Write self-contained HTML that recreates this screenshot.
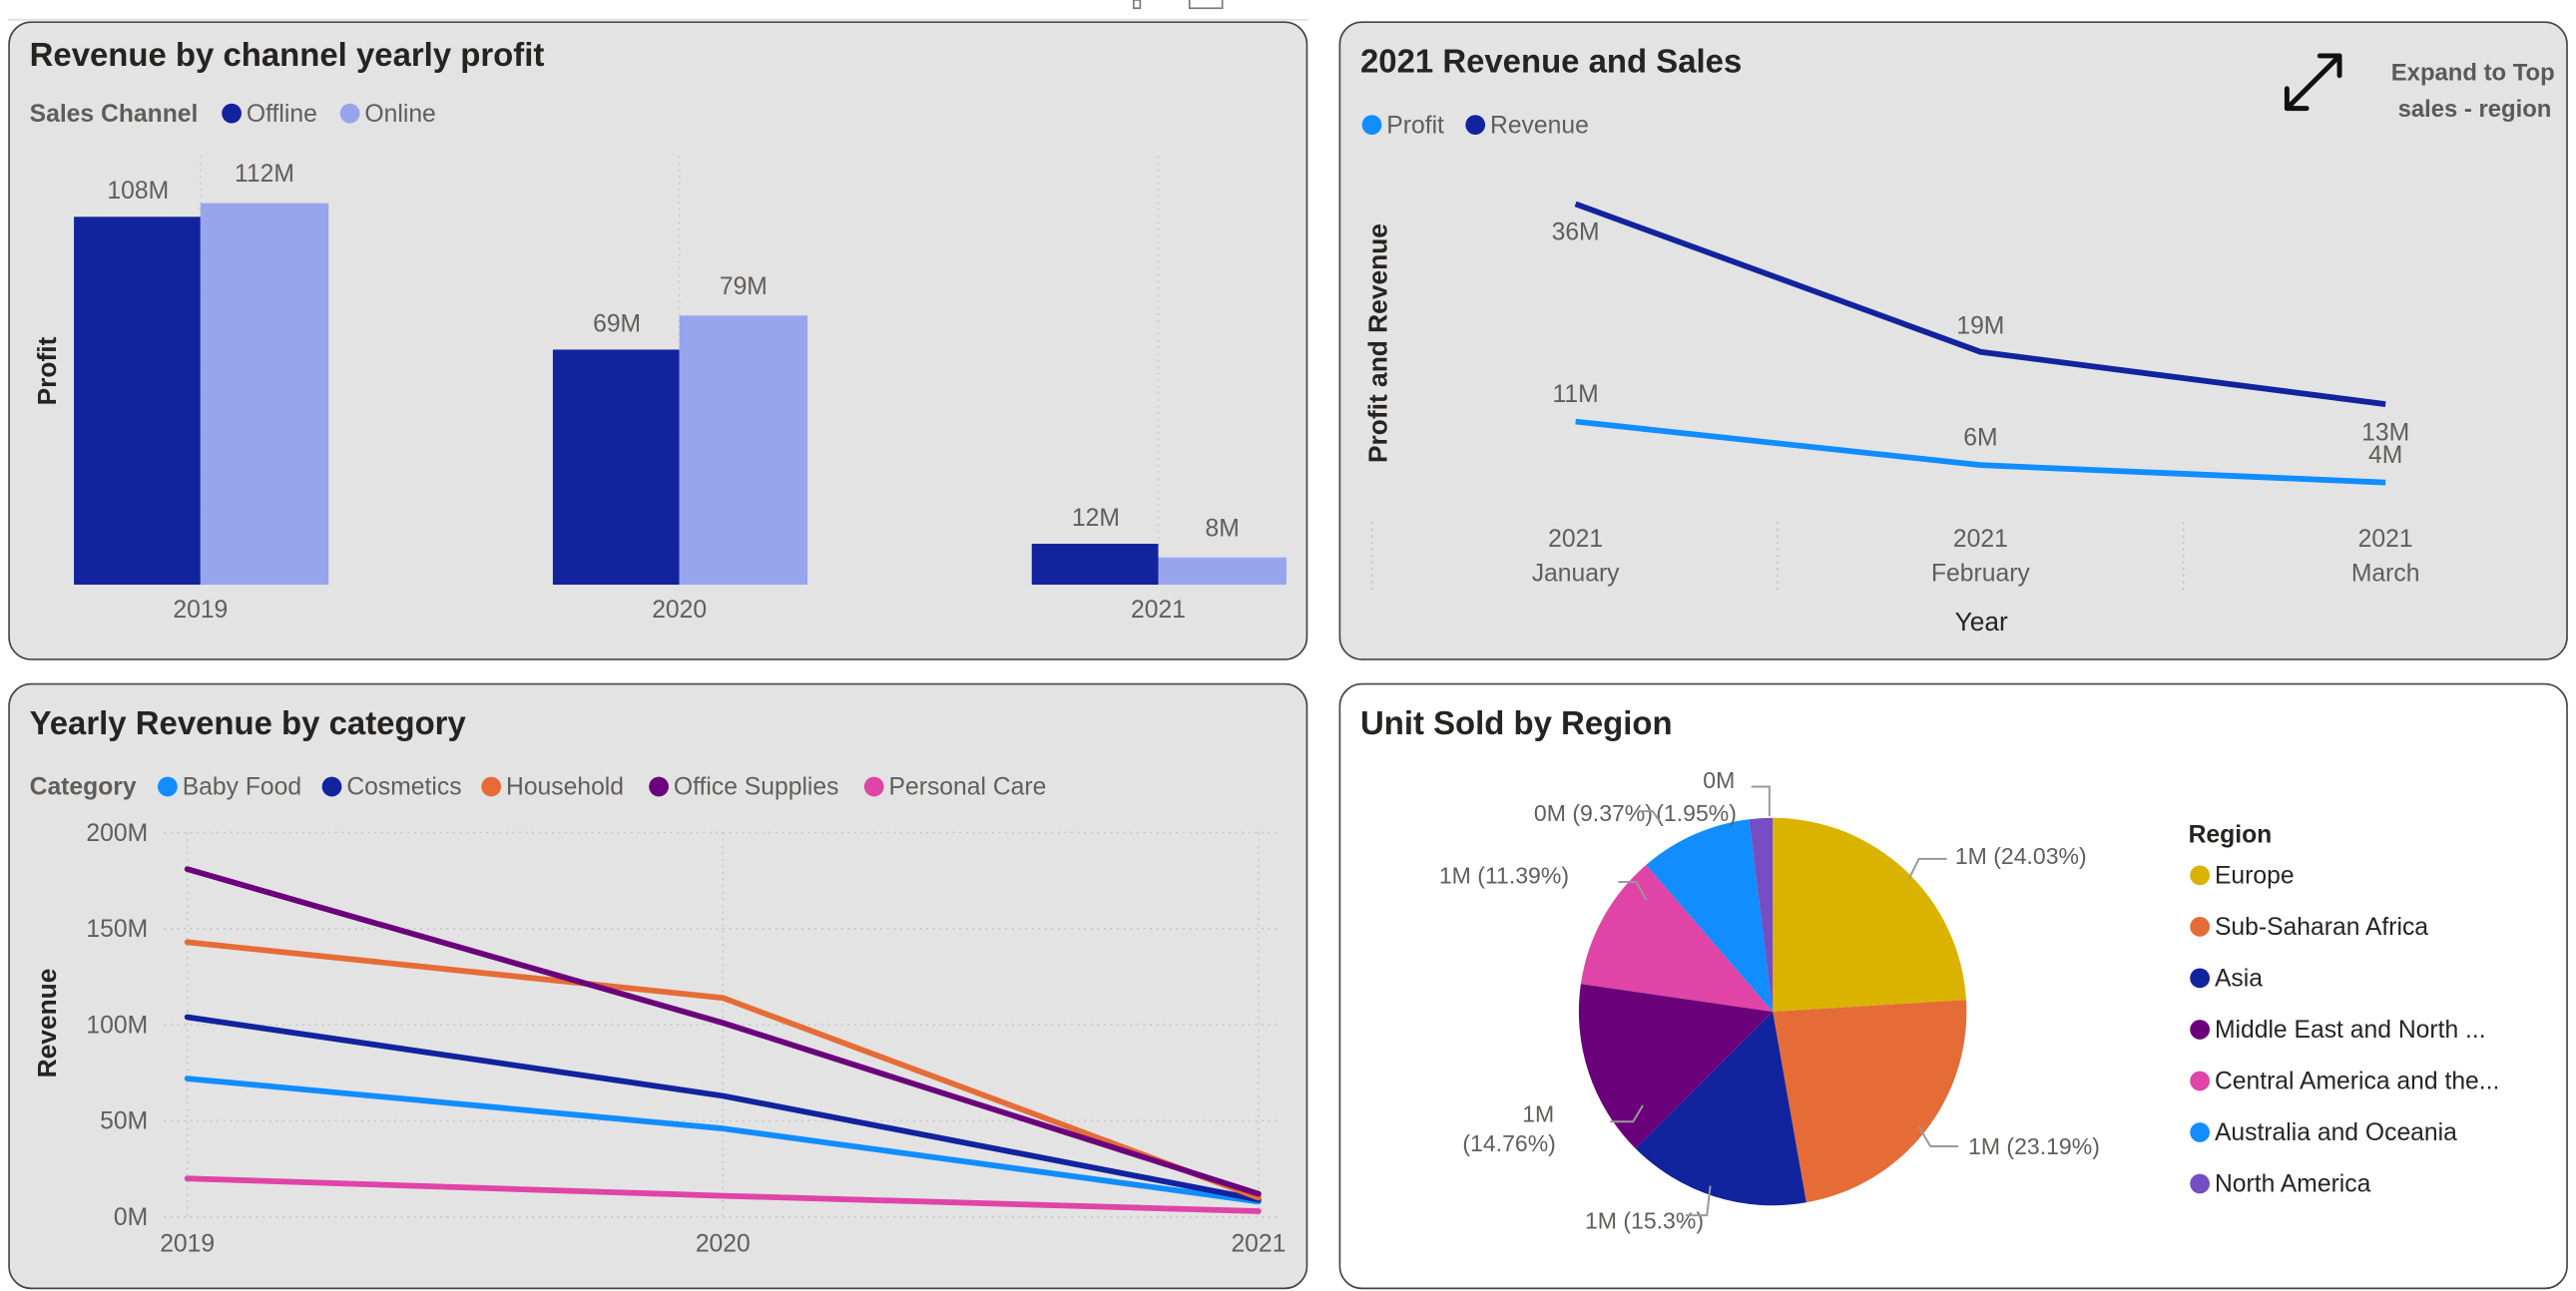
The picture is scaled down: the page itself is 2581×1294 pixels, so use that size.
<!DOCTYPE html>
<html><head><meta charset="utf-8">
<style>
html,body{margin:0;padding:0;width:2581px;height:1293px;overflow:hidden;background:#fff;}
#root{position:absolute;left:0;top:0;width:1568px;height:786px;transform:scale(1.6461);transform-origin:0 0;font-family:"Liberation Sans",sans-serif;}
.panel{position:absolute;border:1px solid #444;border-radius:14px;box-sizing:border-box;}
svg text{font-family:"Liberation Sans",sans-serif;}
</style></head><body>
<div id="root">
<svg width="1568" height="14" style="position:absolute;left:0;top:0">
<rect x="690" y="0" width="4" height="5" fill="none" stroke="#777" stroke-width="1"/>
<rect x="724" y="-2" width="20" height="7" fill="none" stroke="#777" stroke-width="1"/>
<line x1="5" y1="12" x2="796" y2="12" stroke="#ddd"/>
</svg>

<div class="panel" style="left:5px;top:13px;width:791px;height:389px;background:#e3e3e3"></div>
<div class="panel" style="left:815px;top:13px;width:748px;height:389px;background:#e3e3e3"></div>
<div class="panel" style="left:5px;top:416px;width:791px;height:369px;background:#e3e3e3"></div>
<div class="panel" style="left:815px;top:416px;width:748px;height:369px;background:#fff"></div>

<svg id="c1" width="1568" height="786" style="position:absolute;left:0;top:0">
<text x="18" y="40" font-size="20" font-weight="bold" fill="#252423">Revenue by channel yearly profit</text>
<g>
<text x="18" y="74" font-size="15" font-weight="bold" fill="#605e5c">Sales Channel</text>
<circle cx="141" cy="69" r="6" fill="#12239e"/><text x="150" y="74" font-size="15" fill="#605e5c">Offline</text>
<circle cx="213" cy="69" r="6" fill="#97a5ec"/><text x="222" y="74" font-size="15" fill="#605e5c">Online</text>
</g>
<text transform="translate(34,226) rotate(-90)" text-anchor="middle" font-size="16" font-weight="bold" fill="#252423">Profit</text>
</svg>

<svg id="c2" width="1568" height="786" style="position:absolute;left:0;top:0">
<text x="828" y="44" font-size="20" font-weight="bold" fill="#252423">2021 Revenue and Sales</text>
<g stroke="#111" stroke-width="3" fill="none" stroke-linecap="round" stroke-linejoin="round">
<line x1="1392" y1="66" x2="1424" y2="34"/><polyline points="1412,34 1424,34 1424,46"/><polyline points="1392,54 1392,66 1404,66"/>
</g>
<text x="1555" y="49" text-anchor="end" font-size="14.5" font-weight="bold" fill="#5a5a5a">Expand to Top</text>
<text x="1553" y="71" text-anchor="end" font-size="14.5" font-weight="bold" fill="#5a5a5a">sales - region</text>
<g>
<circle cx="835" cy="76" r="6" fill="#118dff"/><text x="844" y="81" font-size="15" fill="#605e5c">Profit</text>
<circle cx="898" cy="76" r="6" fill="#12239e"/><text x="907" y="81" font-size="15" fill="#605e5c">Revenue</text>
</g>
<text transform="translate(844,209) rotate(-90)" text-anchor="middle" font-size="16" font-weight="bold" fill="#252423">Profit and Revenue</text>
<text x="1206" y="384" text-anchor="middle" font-size="16" fill="#252423">Year</text>
</svg>

<svg id="c3" width="1568" height="786" style="position:absolute;left:0;top:0">
<text x="18" y="447" font-size="20" font-weight="bold" fill="#252423">Yearly Revenue by category</text>
<text transform="translate(34,623) rotate(-90)" text-anchor="middle" font-size="16" font-weight="bold" fill="#252423">Revenue</text>
</svg>

<svg id="c4" width="1568" height="786" style="position:absolute;left:0;top:0">
<text x="828" y="447" font-size="20" font-weight="bold" fill="#252423">Unit Sold by Region</text>
<text x="1332" y="513" font-size="15" font-weight="bold" fill="#252423">Region</text>
</svg>

<script>
const NS='http://www.w3.org/2000/svg';
function mk(p,tag,attrs,txt){const e=document.createElementNS(NS,tag);for(const k in attrs)e.setAttribute(k,attrs[k]);if(txt!==undefined)e.textContent=txt;p.appendChild(e);return e;}

// ---- Chart 1 data
const c1Years=['2019','2020','2021'];
const c1Offline=[108,69,12];
const c1Online=[112,79,8];
const c1Labels1=['108M','69M','12M'];
const c1Labels2=['112M','79M','8M'];
// ---- Chart 2 data
const c2Months=['January','February','March'];
const c2Revenue=[36,19,13];
const c2Profit=[11,6,4];
// ---- Chart 3 data
const c3Years=['2019','2020','2021'];
const c3Ticks=[0,50,100,150,200];
const c3BabyFood=[72,46,8];
const c3Cosmetics=[104,63,9];
const c3Household=[143,114,10];
const c3Office=[181,101,12];
const c3Personal=[20,11,3];
// ---- Chart 4 data
const c4Regions=['Europe','Sub-Saharan Africa','Asia','Middle East and North ...','Central America and the...','Australia and Oceania','North America'];
const c4Pct=[24.03,23.19,15.3,14.76,11.39,9.37,1.95];

// Chart 1
(function(){
 const s=document.getElementById('c1');
 const base=356,k=2.074;
 const y=v=>base-v*k;
 const cx=i=>122+i*291.5;
 c1Years.forEach((yr,i)=>{
  const g=mk(s,'line',{x1:cx(i),x2:cx(i),y1:95,y2:base,stroke:'#c8c8c8','stroke-dasharray':'1 3'});
  
  
  const b1=mk(s,'rect',{x:cx(i)-77,y:y(c1Offline[i]),width:77,height:c1Offline[i]*k,fill:'#12239e'});
  
  
  const b2=mk(s,'rect',{x:cx(i),y:y(c1Online[i]),width:78,height:c1Online[i]*k,fill:'#97a5ec'});
  
  
  const l1=mk(s,'text',{x:cx(i)-38,y:y(c1Offline[i])-11,'text-anchor':'middle','font-size':15,fill:'#605e5c'},c1Labels1[i]);
  
  
  const l2=mk(s,'text',{x:cx(i)+39,y:y(c1Online[i])-13,'text-anchor':'middle','font-size':15,fill:'#605e5c'},c1Labels2[i]);
  
  
  const xl=mk(s,'text',{x:cx(i),y:376,'text-anchor':'middle','font-size':15,fill:'#605e5c'},yr);
  
  
 });
})();

// Chart 2
(function(){
 const s=document.getElementById('c2');
 const base=315,k=5.3;
 const y=v=>base-v*k;
 const x=i=>959+i*246.5;
 [835,1082,1329].forEach(gx=>{
  const g=mk(s,'line',{x1:gx,x2:gx,y1:318,y2:362,stroke:'#bbb','stroke-dasharray':'1 3'});
  
  
 });
 c2Months.forEach((m,i)=>{
  const t1=mk(s,'text',{x:x(i),y:333,'text-anchor':'middle','font-size':15,fill:'#605e5c'},'2021');
  
  
  const t2=mk(s,'text',{x:x(i),y:354,'text-anchor':'middle','font-size':15,fill:'#605e5c'},m);
  
  
 });
 const rp=mk(s,'polyline',{points:c2Revenue.map((v,i)=>x(i)+','+y(v)).join(' '),fill:'none',stroke:'#12239e','stroke-width':3.5,'stroke-linejoin':'round'});
 
 
 const pp=mk(s,'polyline',{points:c2Profit.map((v,i)=>x(i)+','+y(v)).join(' '),fill:'none',stroke:'#118dff','stroke-width':3.5,'stroke-linejoin':'round'});
 
 
 const rOff=[22,-11,22], pOff=[-12,-12,-12];
 c2Revenue.forEach((v,i)=>{
  const t=mk(s,'text',{x:x(i),y:y(v)+rOff[i],'text-anchor':'middle','font-size':15,fill:'#605e5c'},v+'M');
  
  
 });
 c2Profit.forEach((v,i)=>{
  const t=mk(s,'text',{x:x(i),y:y(v)+(i==2?-12:pOff[i]),'text-anchor':'middle','font-size':15,fill:'#605e5c'},v+'M');
  
  
 });
})();

// Chart 3
(function(){
 const s=document.getElementById('c3');
 const base=741,k=1.17;
 const y=v=>base-v*k;
 const x=i=>114+i*326;
 const lg=[['Category',null],['Baby Food','#118dff'],['Cosmetics','#12239e'],['Household','#e66c37'],['Office Supplies','#6b007b'],['Personal Care','#e044a7']];
 const lx=[18,104,204,301,403,534];
 lg.forEach((e,i)=>{
  if(e[1]){const c=mk(s,'circle',{cx:lx[i]-2,cy:479,r:6,fill:e[1]});
   
   }
  const t=mk(s,'text',{x:e[1]?lx[i]+7:lx[i],y:484,'font-size':15,'font-weight':e[1]?'normal':'bold',fill:'#605e5c'},e[0]);
  
  
 });
 c3Ticks.forEach(v=>{
  const g=mk(s,'line',{x1:100,x2:780,y1:y(v),y2:y(v),stroke:'#c4c4c4','stroke-dasharray':'1 3'});
  
  
  const t=mk(s,'text',{x:90,y:y(v)+5,'text-anchor':'end','font-size':15,fill:'#605e5c'},v+'M');
  
  
 });
 c3Years.forEach((yr,i)=>{
  const g=mk(s,'line',{x1:x(i),x2:x(i),y1:y(200),y2:base,stroke:'#c4c4c4','stroke-dasharray':'1 3'});
  
  
  const t=mk(s,'text',{x:x(i),y:762,'text-anchor':'middle','font-size':15,fill:'#605e5c'},yr);
  
  
 });
 const series=[[c3Personal,'#e044a7','personal-care'],[c3BabyFood,'#118dff','baby-food'],[c3Cosmetics,'#12239e','cosmetics'],[c3Household,'#e66c37','household'],[c3Office,'#6b007b','office-supplies']];
 series.forEach(sr=>{
  const p=mk(s,'polyline',{points:sr[0].map((v,i)=>x(i)+','+y(v)).join(' '),fill:'none',stroke:sr[1],'stroke-width':3.5,'stroke-linejoin':'round','stroke-linecap':'round'});
  
  
 });
})();

// Chart 4
(function(){
 const s=document.getElementById('c4');
 const cx=1079,cy=616,r=118;
 const cols=['#d9b300','#e66c37','#12239e','#6b007b','#e044a7','#118dff','#744ec2'];
 const total=c4Pct.reduce((a,b)=>a+b,0);
 let a0=0;
 c4Pct.forEach((p,i)=>{
  const a1=a0+p/total*2*Math.PI;
  const x0=cx+r*Math.sin(a0),y0=cy-r*Math.cos(a0),x1=cx+r*Math.sin(a1),y1=cy-r*Math.cos(a1);
  const big=(a1-a0)>Math.PI?1:0;
  const sl=mk(s,'path',{d:`M${cx},${cy} L${x0},${y0} A${r},${r} 0 ${big} 1 ${x1},${y1} Z`,fill:cols[i]});
  
  
  a0=a1;
 });
 const lab=[['1M ('+c4Pct[0]+'%)',1190,526,'start'],['1M ('+c4Pct[1]+'%)',1198,703,'start'],['1M ('+c4Pct[2]+'%)',1037,748,'end'],['1M',946,683,'end'],['('+c4Pct[3]+'%)',947,701,'end'],['1M ('+c4Pct[4]+'%)',955,538,'end'],['0M ('+c4Pct[5]+'%)',1006,500,'end'],['('+c4Pct[6]+'%)',1057,500,'end'],['0M',1056,480,'end']];
 lab.forEach(l=>{
  const t=mk(s,'text',{x:l[1],y:l[2],'text-anchor':l[3],'font-size':14,fill:'#605e5c'},l[0]);
  
  
 });
 ['M1162,535 L1168,523 L1185,523','M1168,686 L1175,698 L1192,698','M1041,722 L1039,740 L1026,740','M1000,673 L994,683 L980,683','M1002,548 L996,537 L985,537','M1010,500 L1006,494 L997,494','M1077,497 L1077,479 L1066,479'].forEach(d=>{
  const p=mk(s,'path',{d:d,fill:'none',stroke:'#999','stroke-width':1.2});
  
  
 });
 c4Regions.forEach((rg,i)=>{
  const yy=533+i*31.3;
  const c=mk(s,'circle',{cx:1339,cy:yy,r:6,fill:cols[i]});
  
  
  const t=mk(s,'text',{x:1348,y:yy+5,'font-size':15,fill:'#252423'},rg);
  
  
 });
})();
</script>
</div>
</body></html>
